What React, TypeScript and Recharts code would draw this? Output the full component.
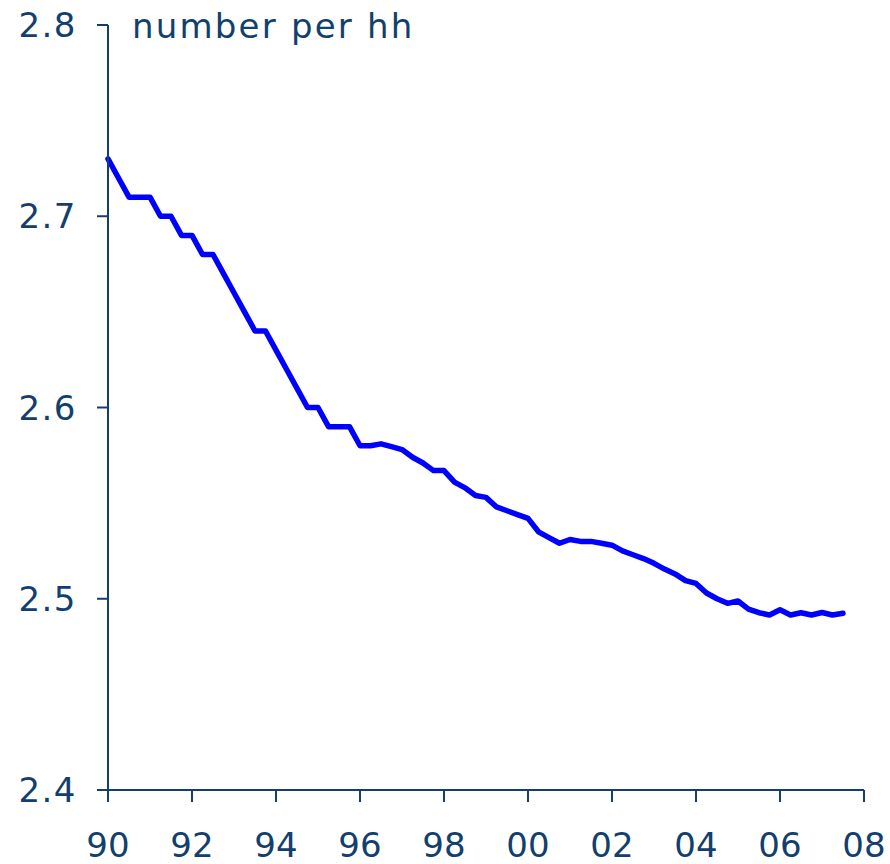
import React from "react";
import { LineChart, Line, XAxis, YAxis } from "recharts";

const startYear = 1990;
const quarterValues: number[] = [
  2.73, 2.72, 2.71, 2.71, 2.71, 2.7, 2.7, 2.69, 2.69, 2.68,
  2.68, 2.67, 2.66, 2.65, 2.64, 2.64, 2.63, 2.62, 2.61, 2.6,
  2.6, 2.59, 2.59, 2.59, 2.58, 2.58, 2.581, 2.5795, 2.578, 2.574,
  2.571, 2.567, 2.567, 2.561, 2.558, 2.554, 2.553, 2.548, 2.546, 2.544,
  2.542, 2.535, 2.532, 2.529, 2.531, 2.53, 2.53, 2.529, 2.528, 2.525,
  2.523, 2.521, 2.5185, 2.5155, 2.513, 2.5095, 2.508, 2.503, 2.5, 2.4976,
  2.4988, 2.4946, 2.4927, 2.4915, 2.4942, 2.4915, 2.4927, 2.4915, 2.4928, 2.4915,
  2.4924,
];
const xTicks = [1990, 1992, 1994, 1996, 1998, 2000, 2002, 2004, 2006, 2008];
const yTicks = [2.4, 2.5, 2.6, 2.7, 2.8];
const title = "number per hh";

const data = quarterValues.map((v, i) => ({ t: startYear + i / 4, v }));

const NAVY = "#123f6e";

export default function App() {
  return (
    <div style={{ position: "absolute", left: 0, top: 0, width: 890, height: 864, background: "#fff" }}>
      <LineChart
        width={890}
        height={864}
        data={data}
        margin={{ top: 25, right: 26, bottom: 14, left: 8 }}
      >
        <XAxis
          dataKey="t"
          type="number"
          domain={[1990, 2008]}
          ticks={xTicks}
          interval={0}
          tickFormatter={(v: number) => String(v).slice(2)}
          height={60}
          tickSize={12}
          tickMargin={31}
          axisLine={{ stroke: NAVY, strokeWidth: 2 }}
          tickLine={{ stroke: NAVY, strokeWidth: 2 }}
          tick={{ fill: NAVY, fontSize: 34, fontFamily: "DejaVu Sans" }}
        />
        <YAxis
          type="number"
          domain={[2.4, 2.8]}
          ticks={yTicks}
          interval={0}
          tickFormatter={(v: number) => v.toFixed(1)}
          width={100}
          tickSize={11}
          tickMargin={20}
          axisLine={{ stroke: NAVY, strokeWidth: 2 }}
          tickLine={{ stroke: NAVY, strokeWidth: 2 }}
          tick={{ fill: NAVY, fontSize: 34, fontFamily: "DejaVu Sans", letterSpacing: 1.5 }}
        />
        <Line
          type="linear"
          dataKey="v"
          stroke="#0000ff"
          strokeWidth={5.5}
          dot={false}
          isAnimationActive={false}
          strokeLinejoin="round"
          strokeLinecap="round"
        />
      </LineChart>
      <svg
        width={890}
        height={60}
        style={{ position: "absolute", left: 0, top: 0, pointerEvents: "none" }}
      >
        <text
          x={132}
          y={38}
          fill={NAVY}
          fontSize={34}
          fontFamily="DejaVu Sans"
          letterSpacing={2.2}
        >
          {title}
        </text>
      </svg>
    </div>
  );
}
